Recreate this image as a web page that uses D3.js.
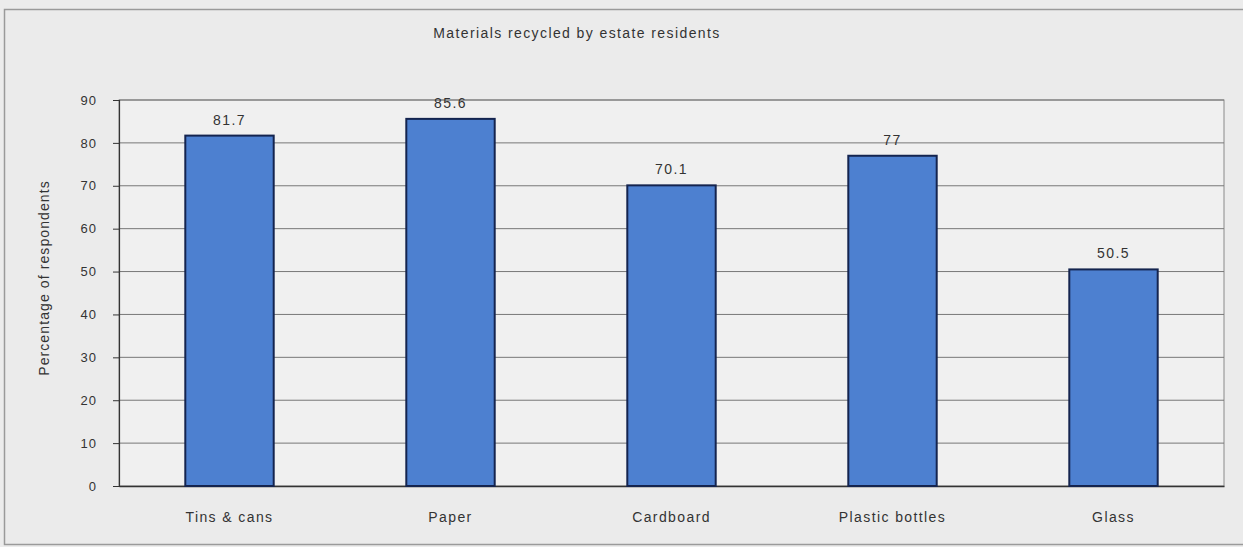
<!DOCTYPE html>
<html>
<head>
<meta charset="utf-8">
<script src="https://cdn.jsdelivr.net/npm/d3@7"></script>
<style>
  html, body { margin: 0; padding: 0; background: #ececec; }
  svg { display: block; }
  text { font-family: "Liberation Sans", Arial, sans-serif; fill: #333; }
</style>
</head>
<body>
<svg id="chart" width="1243" height="547"></svg>
<script>
// Materials recycled by estate residents (% of respondents)
const categories = ["Tins & cans", "Paper", "Cardboard", "Plastic bottles", "Glass"];
const values = [81.7, 85.6, 70.1, 77, 50.5];
const valueLabels = ["81.7", "85.6", "70.1", "77", "50.5"];
const yTicks = [0, 10, 20, 30, 40, 50, 60, 70, 80, 90];
const title = "Materials recycled by estate residents";
const yTitle = "Percentage of respondents";

const W = 1243, H = 547;
const plot = { left: 119, right: 1224, top: 100, bottom: 486 };
const font = "'Liberation Sans', Arial, sans-serif";

const svg = d3.select("#chart");

// outer frame of the chart
svg.append("rect")
  .attr("x", 4.5).attr("y", 9.5)
  .attr("width", W + 10).attr("height", H - 12)
  .attr("fill", "#ebebeb")
  .attr("stroke", "#9a9a9a").attr("stroke-width", 1.5);

const x = d3.scaleBand()
  .domain(categories)
  .range([plot.left, plot.right])
  .paddingInner(0.6)
  .paddingOuter(0.3);

const y = d3.scaleLinear()
  .domain([0, 90])
  .range([plot.bottom, plot.top]);

// plot area
svg.append("rect")
  .attr("x", plot.left).attr("y", plot.top)
  .attr("width", plot.right - plot.left).attr("height", plot.bottom - plot.top)
  .attr("fill", "#f0f0f0")
  .attr("stroke", "#8a8a8a").attr("stroke-width", 1);

// gridlines
svg.append("g")
  .selectAll("line")
  .data(yTicks.filter(d => d > 0))
  .join("line")
  .attr("x1", plot.left).attr("x2", plot.right)
  .attr("y1", d => y(d)).attr("y2", d => y(d))
  .attr("stroke", "#777").attr("stroke-width", 1);

// y axis
const yAxis = svg.append("g")
  .attr("transform", `translate(${plot.left},0)`)
  .call(d3.axisLeft(y).tickValues(yTicks).tickSize(6).tickPadding(16).tickFormat(d3.format("d")));
yAxis.select(".domain").attr("stroke", "#333").attr("stroke-width", 1.2);
yAxis.selectAll(".tick line").attr("stroke", "#333");
yAxis.selectAll(".tick text").attr("font-size", 13).attr("fill", "#333")
  .attr("letter-spacing", 1).style("font-family", font);

// x axis
const xAxis = svg.append("g")
  .attr("transform", `translate(0,${plot.bottom})`)
  .call(d3.axisBottom(x).tickSize(0).tickPadding(26));
xAxis.select(".domain").attr("stroke", "#333").attr("stroke-width", 1.5);
xAxis.selectAll(".tick text").attr("font-size", 14).attr("fill", "#333")
  .attr("letter-spacing", 1.4).style("font-family", font);

// bars
svg.append("g")
  .selectAll("rect")
  .data(categories)
  .join("rect")
  .attr("x", d => x(d))
  .attr("y", (d, i) => y(values[i]))
  .attr("width", x.bandwidth())
  .attr("height", (d, i) => y(0) - y(values[i]))
  .attr("fill", "#4d80d0")
  .attr("stroke", "#14244f").attr("stroke-width", 2);

// value labels
svg.append("g")
  .selectAll("text")
  .data(categories)
  .join("text")
  .attr("x", d => x(d) + x.bandwidth() / 2)
  .attr("y", (d, i) => y(values[i]) - 11)
  .attr("text-anchor", "middle")
  .attr("font-size", 14)
  .attr("letter-spacing", 1.4)
  .text((d, i) => valueLabels[i]);

// title
svg.append("text")
  .attr("x", 577).attr("y", 38)
  .attr("text-anchor", "middle")
  .attr("font-size", 14)
  .attr("letter-spacing", 1.4)
  .text(title);

// y axis title
svg.append("text")
  .attr("transform", `translate(49,${(plot.top + plot.bottom) / 2 - 15}) rotate(-90)`)
  .attr("text-anchor", "middle")
  .attr("font-size", 14)
  .attr("letter-spacing", 1.1)
  .text(yTitle);
</script>
</body>
</html>
